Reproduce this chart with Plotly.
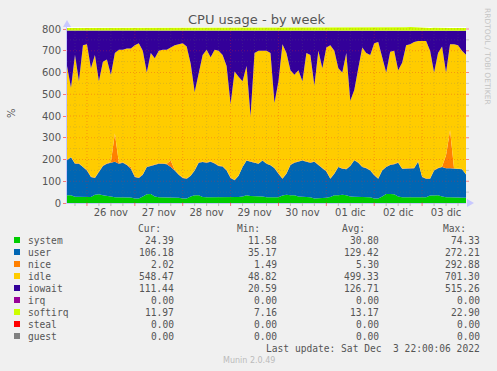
import pandas as pd
import plotly.graph_objects as go

W, H = 497, 371
L, R, T, B = 67, 31, 27, 168

# ---------------- data (2-hour samples, Nov 25 14:00 -> Dec 3 22:00) ----------------
start_time = "2022-11-25 14:00"
n_points = 101

system = [36, 36, 29, 29, 28, 26, 28, 38, 40, 36,
          34, 30, 26, 26, 26, 26, 25, 21, 21, 30,
          40, 41, 30, 26, 26, 26, 26, 26, 24, 21,
          21, 30, 36, 36, 28, 26, 26, 26, 26, 26,
          26, 26, 26, 28, 30, 36, 32, 32, 32, 30,
          26, 26, 26, 26, 34, 38, 36, 36, 30, 29,
          29, 26, 21, 21, 21, 24, 28, 36, 36, 38,
          36, 30, 29, 29, 29, 29, 26, 21, 21, 30,
          41, 41, 40, 30, 26, 26, 26, 26, 26, 26,
          26, 34, 36, 36, 30, 26, 26, 26, 26, 26,
          24.39]
user = [160, 174, 152, 152, 137, 124, 92, 77, 103, 134,
        147, 155, 164, 155, 159, 149, 133, 99, 94, 100,
        125, 129, 145, 155, 155, 152, 139, 124, 106, 94,
        91, 95, 114, 149, 160, 159, 164, 156, 144, 142,
        124, 89, 79, 97, 135, 159, 158, 153, 148, 165,
        154, 147, 134, 109, 78, 97, 139, 149, 160, 166,
        161, 159, 169, 154, 139, 121, 84, 99, 129, 120,
        119, 140, 167, 156, 136, 131, 124, 107, 91, 120,
        124, 134, 138, 155, 131, 131, 131, 134, 164, 94,
        86, 78, 114, 124, 136, 134, 134, 132, 129, 129,
        106.18]
nice = [2, 2, 2, 2, 2, 2, 2, 2, 2, 2,
        2, 4, 130, 4, 2, 2, 8, 2, 2, 2,
        2, 2, 2, 2, 2, 2, 30, 2, 2, 2,
        2, 2, 2, 2, 2, 2, 2, 2, 2, 2,
        2, 2, 2, 2, 2, 2, 2, 2, 2, 2,
        2, 2, 2, 2, 2, 2, 2, 2, 2, 2,
        2, 2, 2, 2, 2, 2, 2, 2, 2, 2,
        2, 2, 2, 2, 2, 2, 2, 2, 2, 2,
        2, 2, 2, 2, 2, 2, 2, 2, 2, 2,
        2, 2, 2, 2, 2, 60, 175, 2, 2, 2,
        2.02]
idle = [432, 318, 497, 377, 558, 578, 498, 563, 415, 478,
        477, 401, 370, 520, 518, 533, 544, 603, 618, 568,
        433, 518, 488, 517, 522, 525, 520, 573, 598, 618,
        606, 513, 358, 403, 490, 518, 478, 521, 528, 510,
        478, 338, 498, 453, 393, 433, 208, 503, 518, 503,
        518, 515, 298, 423, 616, 553, 433, 403, 418, 363,
        498, 493, 348, 523, 458, 568, 611, 563, 453, 440,
        533, 298, 322, 433, 548, 528, 528, 605, 626, 518,
        433, 518, 520, 423, 486, 566, 571, 578, 553, 623,
        631, 586, 448, 528, 552, 380, 395, 570, 568, 543,
        548.47]
iowait = [163, 263, 113, 233, 68, 63, 173, 113, 233, 143,
          133, 203, 103, 88, 88, 83, 83, 68, 58, 93,
          193, 103, 128, 93, 88, 88, 78, 68, 63, 58,
          73, 153, 283, 203, 113, 88, 123, 88, 93, 113,
          163, 338, 188, 213, 233, 163, 393, 103, 93, 93,
          93, 103, 333, 233, 63, 103, 183, 203, 183, 233,
          103, 113, 253, 93, 173, 78, 68, 93, 173, 193,
          103, 323, 273, 173, 78, 103, 113, 58, 53, 123,
          193, 98, 93, 183, 148, 68, 63, 53, 48, 48,
          48, 93, 193, 103, 73, 193, 63, 63, 68, 93,
          111.44]
irq = [0] * n_points
softirq = [12, 12, 13, 12, 12, 13, 14, 15, 14, 13,
           12, 12, 12, 12, 12, 13, 12, 12, 12, 12,
           13, 12, 12, 12, 12, 12, 12, 12, 12, 12,
           12, 13, 14, 13, 12, 12, 12, 12, 12, 12,
           12, 14, 13, 13, 12, 12, 14, 12, 12, 12,
           12, 12, 14, 13, 12, 12, 13, 13, 12, 13,
           12, 12, 13, 12, 12, 12, 12, 12, 13, 13,
           12, 14, 13, 12, 12, 12, 12, 12, 12, 12,
           13, 12, 12, 13, 14, 15, 16, 15, 14, 12,
           12, 12, 13, 12, 12, 13, 12, 12, 12, 12,
           11.97]
steal = [0] * n_points
guest = [0] * n_points

series_names = ["system", "user", "nice", "idle", "iowait", "irq", "softirq", "steal", "guest"]
series_values = [system, user, nice, idle, iowait, irq, softirq, steal, guest]
series_colors = ["#00CC00", "#0066B3", "#FF8000", "#FFCC00", "#330099",
                 "#990099", "#CCFF00", "#FF0000", "#808080"]

stat_cur = ["24.39", "106.18", "2.02", "548.47", "111.44", "0.00", "11.97", "0.00", "0.00"]
stat_min = ["11.58", "35.17", "1.49", "48.82", "20.59", "0.00", "7.16", "0.00", "0.00"]
stat_avg = ["30.80", "129.42", "5.30", "499.33", "126.71", "0.00", "13.17", "0.00", "0.00"]
stat_max = ["74.33", "272.21", "292.88", "701.30", "515.26", "0.00", "22.90", "0.00", "0.00"]

day_labels = ["26 nov", "27 nov", "28 nov", "29 nov", "30 nov", "01 dic", "02 dic", "03 dic"]
day_noons = pd.date_range("2022-11-26 12:00", periods=8, freq="1D")
y_ticks = [0, 100, 200, 300, 400, 500, 600, 700, 800]

times = pd.date_range(start_time, periods=n_points, freq="2h")
x_start = pd.Timestamp("2022-11-25 14:00")
x_end = pd.Timestamp("2022-12-03 22:00")
y_top = 800 * (203 - T) / (203 - 29)

# ---------------- helpers ----------------
PW = W - L - R
PH = H - T - B


def px(x):
    return (x - L) / PW


def py(y):
    return (H - B - y) / PH


fig = go.Figure()
for name, vals, col in zip(series_names, series_values, series_colors):
    fig.add_trace(go.Scatter(
        x=times, y=vals, name=name, stackgroup="cpu", mode="lines",
        line=dict(width=0, color=col), fillcolor=col, showlegend=False,
        hoverinfo="skip"))

MAJ = "rgba(230,40,40,0.32)"
MIN = "rgba(110,110,110,0.22)"
DOT = "1px,2px"
shapes = []
# vertical grid (drawn over the data, like rrdtool)
t = pd.Timestamp("2022-11-25 18:00")
while t < x_end:
    major = (t.hour == 0)
    shapes.append(dict(type="line", xref="x", yref="y domain", x0=t, x1=t, y0=0, y1=1,
                       line=dict(color=MAJ if major else MIN, width=1, dash=DOT), layer="above"))
    shapes.append(dict(type="line", xref="x", yref="y domain", x0=t, x1=t, y0=0, y1=-3 / PH,
                       line=dict(color="rgba(255,0,0,0.5)" if major else "#BBBBBB", width=1),
                       layer="above"))
    t += pd.Timedelta(hours=6)
# horizontal grid
for v in range(50, 801, 50):
    major = (v % 100 == 0)
    shapes.append(dict(type="line", xref="x domain", yref="y", x0=0, x1=1, y0=v, y1=v,
                       line=dict(color=MAJ if major else MIN, width=1, dash=DOT), layer="above"))
    shapes.append(dict(type="line", xref="x domain", yref="y", x0=1, x1=1 + 3 / PW, y0=v, y1=v,
                       line=dict(color="rgba(255,0,0,0.45)" if major else "#C8C8C8", width=1),
                       layer="above"))

# axis arrows
arrow_col = "#C8C8FF"
shapes.append(dict(type="path", xref="paper", yref="paper",
                   path=f"M {px(63)} {py(27)} L {px(71)} {py(27)} L {px(67)} {py(20)} Z",
                   fillcolor=arrow_col, line=dict(width=0)))
shapes.append(dict(type="path", xref="paper", yref="paper",
                   path=f"M {px(467)} {py(199)} L {px(467)} {py(207)} L {px(474)} {py(203)} Z",
                   fillcolor=arrow_col, line=dict(width=0)))

annotations = []
annotations.append(dict(text="CPU usage - by week", x=px(256), y=py(19), xref="paper", yref="paper",
                        showarrow=False, xanchor="center", yanchor="middle",
                        font=dict(family="DejaVu Sans", size=13, color="#555555")))
annotations.append(dict(text="%", x=px(11), y=py(113), xref="paper", yref="paper",
                        showarrow=False, textangle=-90, xanchor="center", yanchor="middle",
                        font=dict(family="DejaVu Sans", size=10, color="#555555")))
annotations.append(dict(text="RRDTOOL / TOBI OETIKER", x=px(488), y=py(56), xref="paper", yref="paper",
                        showarrow=False, textangle=90, xanchor="center", yanchor="middle",
                        font=dict(family="DejaVu Sans", size=7.5, color="#C4C4C4")))

mono = dict(family="DejaVu Sans Mono", size=9.6, color="#555555")
for htxt, hx in zip(["Cur:", "Min:", "Avg:", "Max:"], [163, 262, 367, 468]):
    annotations.append(dict(text=htxt, x=px(hx), y=py(228), xref="paper", yref="paper",
                            showarrow=False, xanchor="right", yanchor="middle", font=mono))
row_y0, row_dy = 240, 12
for i, name in enumerate(series_names):
    ry = row_y0 + i * row_dy
    shapes.append(dict(type="rect", xref="paper", yref="paper",
                       x0=px(14), x1=px(20), y0=py(ry + 3), y1=py(ry - 3),
                       fillcolor=series_colors[i], line=dict(width=0)))
    annotations.append(dict(text=name, x=px(26), y=py(ry), xref="paper", yref="paper",
                            showarrow=False, xanchor="left", yanchor="middle", font=mono))
    for vals, vx in zip([stat_cur, stat_min, stat_avg, stat_max], [176, 279, 381, 482]):
        annotations.append(dict(text=vals[i], x=px(vx), y=py(ry), xref="paper", yref="paper",
                                showarrow=False, xanchor="right", yanchor="middle", font=mono))
annotations.append(dict(text="Last update: Sat Dec&nbsp; 3 22:00:06 2022",
                        x=px(482), y=py(348), xref="paper", yref="paper",
                        showarrow=False, xanchor="right", yanchor="middle", font=mono))
annotations.append(dict(text="Munin 2.0.49", x=px(249), y=py(360), xref="paper", yref="paper",
                        showarrow=False, xanchor="center", yanchor="middle",
                        font=dict(family="DejaVu Sans", size=8, color="#BBBBBB")))

fig.update_layout(
    width=W, height=H, autosize=False,
    margin=dict(l=L, r=R, t=T, b=B, pad=0),
    paper_bgcolor="#F0F0F0", plot_bgcolor="#FFFFFF",
    shapes=shapes, annotations=annotations,
    showlegend=False,
    xaxis=dict(range=[x_start, x_end], tickmode="array", tickvals=day_noons, ticktext=day_labels,
               ticks="", showgrid=False, zeroline=False, showline=True, linecolor=arrow_col,
               tickfont=dict(family="DejaVu Sans", size=10, color="#555555")),
    yaxis=dict(range=[0, y_top], tickmode="array", tickvals=y_ticks,
               ticks="outside", ticklen=3, tickcolor="rgba(255,0,0,0.5)",
               showgrid=False, zeroline=False, showline=True, linecolor=arrow_col,
               tickfont=dict(family="DejaVu Sans", size=10, color="#555555")),
)

fig.write_html("out.html")
